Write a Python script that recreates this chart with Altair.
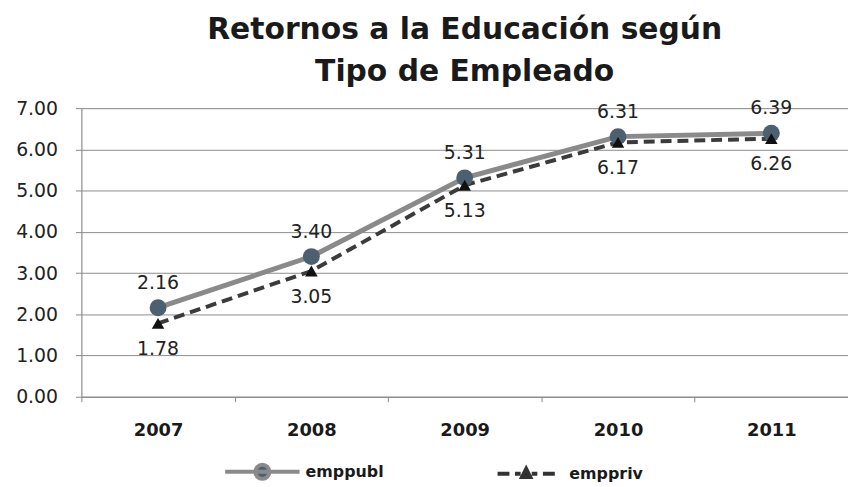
import altair as alt
import pandas as pd

years = ["2007", "2008", "2009", "2010", "2011"]
emppubl = [2.16, 3.40, 5.31, 6.31, 6.39]
emppriv = [1.78, 3.05, 5.13, 6.17, 6.26]
series_names = ["emppubl", "emppriv"]
y_ticks = [0, 1, 2, 3, 4, 5, 6, 7]

rows = []
for y, a, b in zip(years, emppubl, emppriv):
    rows.append({"year": y, "series": "emppubl", "value": a})
    rows.append({"year": y, "series": "emppriv", "value": b})
df = pd.DataFrame(rows)

FONT = "DejaVu Sans"

x_enc = alt.X(
    "year:N",
    sort=years,
    scale=alt.Scale(paddingInner=0, paddingOuter=0),
    axis=alt.Axis(
        title=None, labelAngle=0, labelFont=FONT, labelFontWeight="bold",
        labelFontSize=18, labelColor="#1a1a1a", tickBand="extent",
        tickSize=5, tickColor="#888888", domainColor="#888888",
        labelPadding=20, grid=False,
    ),
)
y_enc = alt.Y(
    "value:Q",
    scale=alt.Scale(domain=[0, 7], nice=False),
    axis=alt.Axis(
        title=None, values=y_ticks, format=".2f", labelFont=FONT,
        labelFontSize=19, labelColor="#222222", tickSize=6,
        tickColor="#888888", domainColor="#888888", labelPadding=18,
        grid=True, gridColor="#8c8c8c", gridWidth=1,
    ),
)

pub_path = "M-1,0L1,0M0.19,0A0.19,0.19,0,1,1,-0.19,0A0.19,0.19,0,1,1,0.19,0Z"
priv_path = ("M-0.77,0L-0.45,0M-0.3,0L-0.15,0M0.15,0L0.3,0M0.45,0L0.77,0"
             "M0,-0.13L0.11,0.09L-0.11,0.09Z")

legend = alt.Legend(
    title=None, orient="none", direction="horizontal",
    legendX=143, legendY=327, padding=0,
    labelFont=FONT, labelFontWeight="bold", labelFontSize=16,
    labelColor="#1a1a1a", symbolSize=5625, columnPadding=104,
    labelOffset=4, symbolStrokeWidth=4, symbolOpacity=1,
)

base = alt.Chart(df)
pub = base.transform_filter("datum.series === 'emppubl'")
priv = base.transform_filter("datum.series === 'emppriv'")

line_pub = pub.mark_line(color="#8a8a8a", strokeWidth=5).encode(x=x_enc, y=y_enc)
line_priv = priv.mark_line(color="#3b3b3b", strokeWidth=4, strokeDash=[11, 6]).encode(x=x_enc, y=y_enc)

pts_pub = pub.mark_point(
    filled=True, opacity=1, shape="circle", size=290, color="#4d6070"
).encode(x=x_enc, y=y_enc)

pts_priv = priv.mark_point(
    filled=True, opacity=1, shape="triangle-up", size=160, color="#111111"
).encode(x=x_enc, y=y_enc)

legend_layer = base.mark_point(filled=True, opacity=0).encode(
    x=x_enc,
    y=y_enc,
    shape=alt.Shape("series:N", scale=alt.Scale(domain=series_names, range=[pub_path, priv_path]),
                    legend=legend),
    fill=alt.Fill("series:N", scale=alt.Scale(domain=series_names, range=["#4d6070", "#111111"]),
                  legend=legend),
    stroke=alt.Stroke("series:N", scale=alt.Scale(domain=series_names, range=["#8a8a8a", "#333333"]),
                      legend=legend),
)

text_pub = pub.mark_text(
    font=FONT, fontSize=19, color="#222222", dy=-25
).encode(x=x_enc, y=y_enc, text=alt.Text("value:Q", format=".2f"))

text_priv = priv.mark_text(
    font=FONT, fontSize=19, color="#222222", dy=26
).encode(x=x_enc, y=y_enc, text=alt.Text("value:Q", format=".2f"))

chart = alt.layer(line_pub, line_priv, pts_pub, pts_priv, legend_layer, text_pub, text_priv).properties(
    width=773,
    height=291,
    autosize="none",
    padding={"left": 74, "top": 99, "right": 0, "bottom": 88},
    title=alt.TitleParams(
        text=["Retornos a la Educación según", "Tipo de Empleado"],
        font=FONT, fontSize=30, fontWeight="bold", color="#1a1a1a",
        anchor="middle", frame="group", lineHeight=43, offset=12,
    ),
).configure_view(stroke=None).configure(background="white")

chart.save("out.html", embed_options={"renderer": "svg", "actions": False})
